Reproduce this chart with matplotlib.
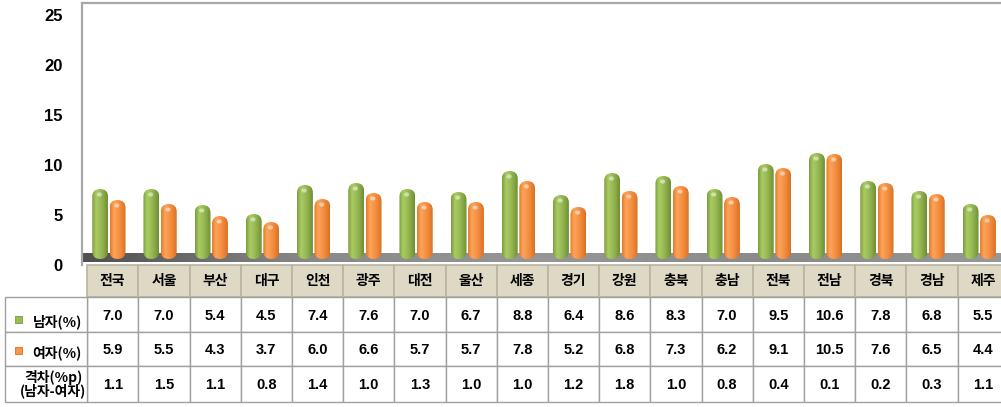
import numpy as np
import matplotlib.pyplot as plt
from matplotlib.patches import FancyBboxPatch, Rectangle, Ellipse
from matplotlib.colors import LinearSegmentedColormap

regions = ['전국', '서울', '부산', '대구', '인천', '광주', '대전', '울산', '세종',
           '경기', '강원', '충북', '충남', '전북', '전남', '경북', '경남', '제주']
male = [7.0, 7.0, 5.4, 4.5, 7.4, 7.6, 7.0, 6.7, 8.8, 6.4, 8.6, 8.3, 7.0, 9.5, 10.6, 7.8, 6.8, 5.5]
female = [5.9, 5.5, 4.3, 3.7, 6.0, 6.6, 5.7, 5.7, 7.8, 5.2, 6.8, 7.3, 6.2, 9.1, 10.5, 7.6, 6.5, 4.4]
gap = [1.1, 1.5, 1.1, 0.8, 1.4, 1.0, 1.3, 1.0, 1.0, 1.2, 1.8, 1.0, 0.8, 0.4, 0.1, 0.2, 0.3, 1.1]
row_labels = ['남자(%)', '여자(%)', '격차(%p)\n(남자-여자)']
yticks = [0, 5, 10, 15, 20, 25]

KR = ['Noto Sans CJK KR', 'DejaVu Sans']
NUM = ['Liberation Sans', 'DejaVu Sans']

W, H = 1001, 407
fig = plt.figure(figsize=(W / 100, H / 100), dpi=100)

x_left = -0.6
x_right = 17.5
col_px = 51.2
ax_l = 82 / W
ax_w = (x_right - x_left) * col_px / W

# main chart axes: value 0 at pixel y=265, top frame at y=3
ax = fig.add_axes([ax_l, (H - 265) / H, ax_w, 262 / H])
ax.set_xlim(x_left, x_right)
ax.set_ylim(0, 26.2)
for s in ['right', 'bottom']:
    ax.spines[s].set_visible(False)
for s in ['left', 'top']:
    ax.spines[s].set_color('#a8a8a8')
    ax.spines[s].set_linewidth(1.6)
ax.set_xticks([])
ax.set_yticks(yticks)
ax.set_yticklabels([str(t) for t in yticks], fontfamily=NUM, fontweight='bold', fontsize=12)
ax.tick_params(axis='y', length=0, pad=14)

# floor band
floor_cmap = LinearSegmentedColormap.from_list('floor', ['#505050', '#8a8a8a', '#969696', '#8a8a8a', '#989898'])
ax.imshow(np.linspace(0, 1, 256).reshape(1, -1), cmap=floor_cmap, aspect='auto',
          extent=(x_left, x_right, 0.3, 1.2), zorder=1, interpolation='bicubic')
ax.set_xlim(x_left, x_right)
ax.set_ylim(0, 26.2)

base = 0.6
bw = 0.31
xs = np.arange(len(regions))


def cyl_bars(xpos, vals, colors):
    bars = ax.bar(xpos, vals, bw, bottom=base, color='none', edgecolor='none')
    cmap = LinearSegmentedColormap.from_list('c', colors)
    grad = np.linspace(0, 1, 128).reshape(1, -1)
    for b in bars:
        x, y, w, h = b.get_x(), b.get_y(), b.get_width(), b.get_height()
        shape = FancyBboxPatch((x, y), w, h, boxstyle='round,pad=0,rounding_size=0.155',
                               mutation_aspect=5.0, fc='none', ec='none', zorder=3)
        ax.add_patch(shape)
        im = ax.imshow(grad, cmap=cmap, extent=(x, x + w, y, y + h), aspect='auto',
                       interpolation='bicubic', zorder=3)
        im.set_clip_path(shape)
        ax.add_patch(Ellipse((x + w * 0.45, y + h - 0.55), w * 0.33, 0.42,
                             fc='white', ec='none', alpha=0.5, zorder=4))


cyl_bars(xs - 0.245, male, ['#7a9a3a', '#a9cc64', '#9cbd58', '#88a947', '#6f8e31'])
cyl_bars(xs + 0.095, female, ['#e27a2a', '#fba558', '#f7944a', '#ec8536', '#d86f22'])
ax.set_xlim(x_left, x_right)
ax.set_ylim(0, 26.2)

# data table below
tax = fig.add_axes([ax_l, (H - 402) / H, ax_w, 137 / H])
tax.set_xlim(x_left, x_right)
tax.set_ylim(402, 265)
tax.axis('off')

edge = '#a0a0a0'
rows_y = [(297, 332), (332, 366), (366, 402)]
label_l = -0.5 - (87 - 5) / col_px

for i, name in enumerate(regions):
    tax.add_patch(Rectangle((i - 0.5, 265), 1, 32, fc='#ddd9c4', ec='#b8b4a0', lw=1.2, clip_on=False))
    tax.text(i, 281, name, ha='center', va='center', fontfamily=KR, fontweight='bold', fontsize=10)
    for (y0, y1), vals in zip(rows_y, [male, female, gap]):
        tax.add_patch(Rectangle((i - 0.5, y0), 1, y1 - y0, fc='white', ec=edge, lw=1.0, clip_on=False))
        tax.text(i, (y0 + y1) / 2 + 1, '%.1f' % vals[i], ha='center', va='center',
                 fontfamily=NUM, fontweight='bold', fontsize=10.5)

for (y0, y1) in rows_y:
    tax.add_patch(Rectangle((label_l, y0), -0.5 - label_l, y1 - y0, fc='white', ec=edge, lw=1.0, clip_on=False))

lab_x = -0.5 - (87 - 57) / col_px
mk_x = -0.5 - (87 - 18) / col_px
tax.text(lab_x, 322, row_labels[0], ha='center', va='center', fontfamily=KR, fontweight='bold', fontsize=10, clip_on=False)
tax.text(lab_x, 353, row_labels[1], ha='center', va='center', fontfamily=KR, fontweight='bold', fontsize=10, clip_on=False)
tax.text(lab_x - 0.08, 384, row_labels[2], ha='center', va='center', fontfamily=KR, fontweight='bold',
         fontsize=10, linespacing=0.9, clip_on=False)
mk_w = 7 / col_px
tax.add_patch(Rectangle((mk_x - mk_w / 2, 316), mk_w, 7, fc='#9bbb59', ec='#7a9a3a', lw=0.6, clip_on=False))
tax.add_patch(Rectangle((mk_x - mk_w / 2, 347), mk_w, 7, fc='#f79646', ec='#d86f22', lw=0.6, clip_on=False))

fig.savefig('out.png', dpi=100)
